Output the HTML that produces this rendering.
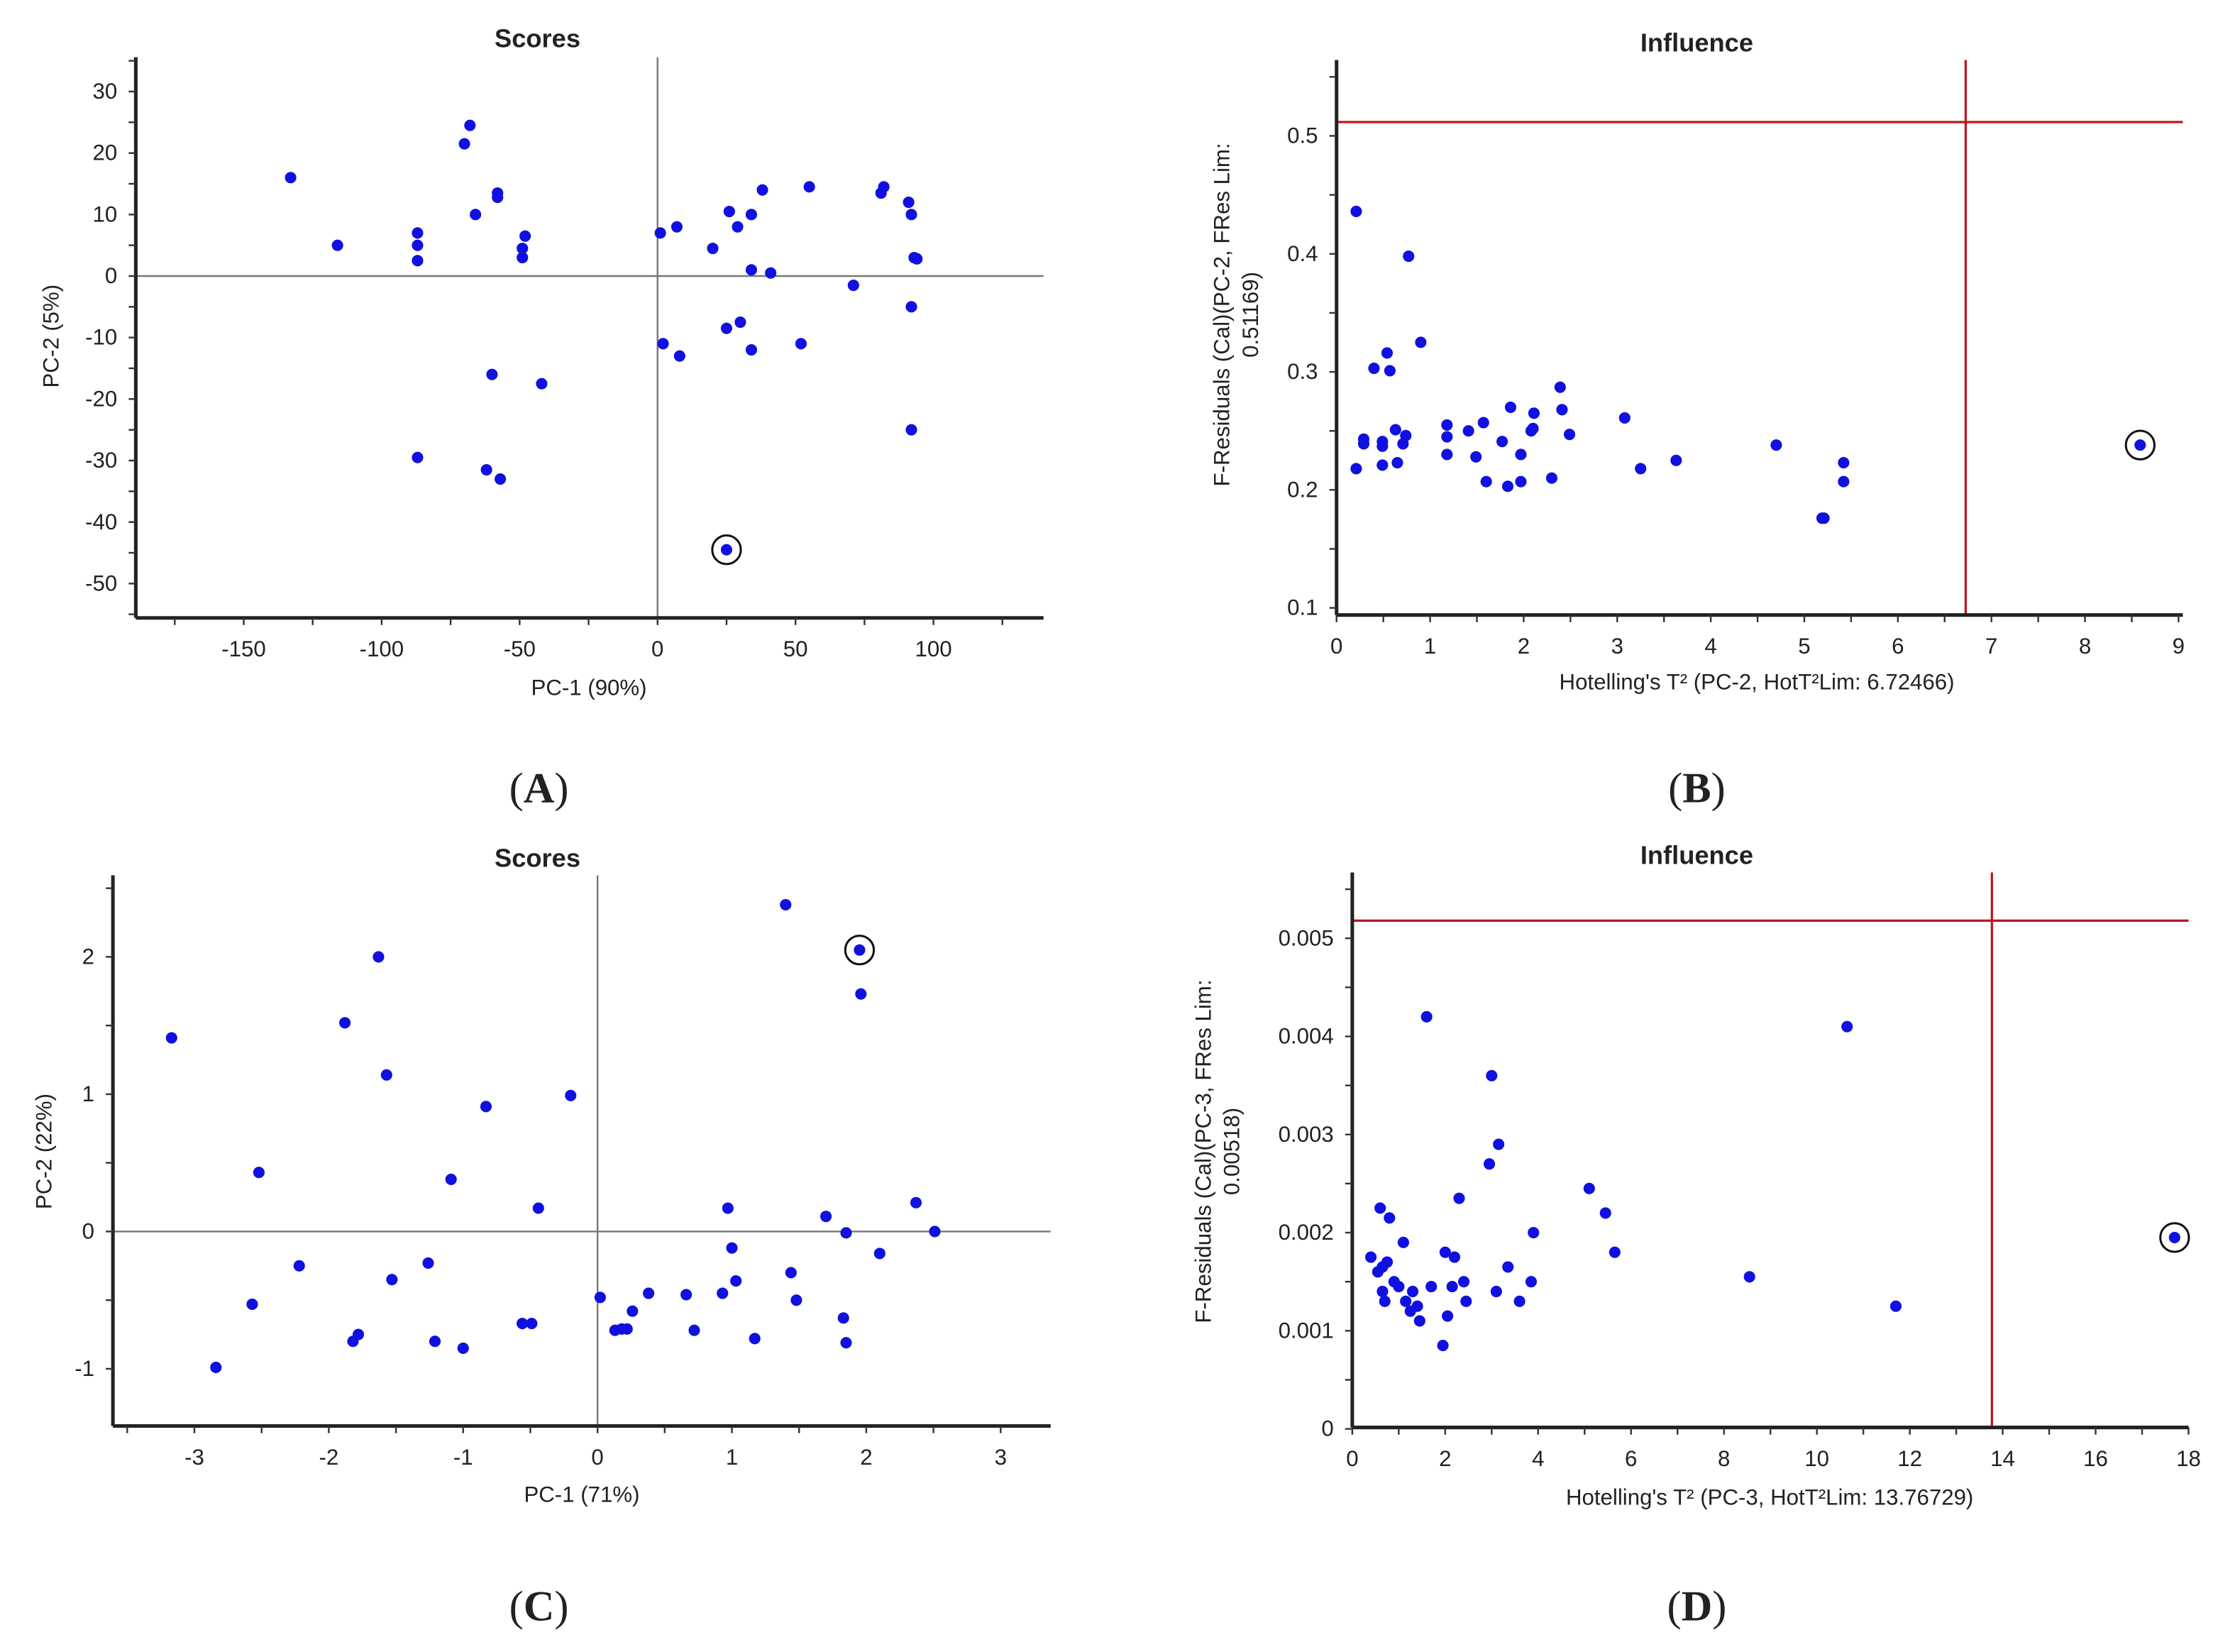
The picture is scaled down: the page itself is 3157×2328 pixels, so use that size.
<!DOCTYPE html>
<html><head><meta charset="utf-8"><style>
html,body{margin:0;padding:0;background:#fff;}
svg{display:block;}
text{font-family:"Liberation Sans",sans-serif;fill:#222;}
.t{font-size:15.5px;}
.lab{font-size:15.5px;}
.ttl{font-size:18px;font-weight:bold;}
.pl{font-family:"Liberation Serif",serif;font-size:30px;}
</style></head><body>
<svg id="chart" width="3157" height="2328" viewBox="0 0 1567 1155" preserveAspectRatio="none" xmlns="http://www.w3.org/2000/svg"></svg>
<script>
// Panel A data
const aX=[-133,-116,-87,-87,-87,-68,-70,-66,-58,-58,-48,-49,-49,-60,-42,-87,-62,-57,1,7,20,26,29,34,38,55,82,81,91,92,93,94,34,41,71,92,25,30,34,52,2,8,92];
const aY=[16,5,7,5,2.5,24.5,21.5,10,13.5,12.8,6.5,4.5,3,-16,-17.5,-29.5,-31.5,-33,7,8,4.5,10.5,8,10,14,14.5,14.5,13.5,12,10,3,2.8,1,0.5,-1.5,-5,-8.5,-7.5,-12,-11,-11,-13,-25];
const aOut=[25,-44.5];
const aXTicks=[-150,-100,-50,0,50,100];
const aYTicks=[30,20,10,0,-10,-20,-30,-40,-50];
// Panel B data
const bX=[0.21,0.77,0.9,0.4,0.54,0.57,0.63,0.29,0.29,0.49,0.49,0.71,0.74,0.21,0.49,0.65,1.18,1.18,1.18,1.41,1.57,1.49,1.6,1.77,1.86,1.83,1.97,1.97,2.11,2.08,2.1,2.39,2.41,2.49,2.3,3.08,3.25,3.63,4.7,5.19,5.21,5.42,5.42];
const bY=[0.436,0.398,0.325,0.303,0.316,0.301,0.251,0.243,0.239,0.241,0.237,0.239,0.246,0.218,0.221,0.223,0.255,0.245,0.230,0.25,0.257,0.228,0.207,0.241,0.270,0.203,0.230,0.207,0.265,0.25,0.252,0.287,0.268,0.247,0.21,0.261,0.218,0.225,0.238,0.176,0.176,0.223,0.207];
const bOut=[8.59,0.238];
const bXTicks=[0,1,2,3,4,5,6,7,8,9];
const bYTicks=[0.5,0.4,0.3,0.2,0.1];
const bLimX=6.72466, bLimY=0.51169;
// Panel C data
const cX=[-3.17,-2.52,-2.57,-2.84,-2.22,-1.88,-1.63,-1.57,-1.53,-1.82,-1.78,-1.26,-1.21,-1.09,-1.0,-0.83,-0.56,-0.49,-0.44,-0.2,0.02,0.13,0.18,0.22,0.26,0.38,0.66,0.72,0.93,0.97,1.0,1.03,1.17,1.4,1.44,1.48,1.7,1.85,1.83,1.85,1.96,2.1,2.37,2.51];
const cY=[1.41,0.43,-0.53,-0.99,-0.25,1.52,2.0,1.14,-0.35,-0.8,-0.75,-0.23,-0.8,0.38,-0.85,0.91,-0.67,-0.67,0.17,0.99,-0.48,-0.72,-0.71,-0.71,-0.58,-0.45,-0.46,-0.72,-0.45,0.17,-0.12,-0.36,-0.78,2.38,-0.3,-0.5,0.11,-0.01,-0.63,-0.81,1.73,-0.16,0.21,0.0];
const cOut=[1.95,2.05];
const cXTicks=[-3,-2,-1,0,1,2,3];
const cYTicks=[2,1,0,-1];
// Panel D data
const dX=[0.4,0.55,0.6,0.65,0.7,0.65,0.75,0.8,0.9,1.0,1.1,1.15,1.25,1.3,1.45,1.4,1.6,1.7,1.95,2.0,2.05,2.2,2.15,2.3,2.4,2.45,2.95,3.0,3.15,3.1,3.35,3.6,3.9,3.85,5.1,5.45,5.65,8.55,10.65,11.7];
const dY=[0.00175,0.0016,0.00225,0.0014,0.0013,0.00165,0.0017,0.00215,0.0015,0.00145,0.0019,0.0013,0.0012,0.0014,0.0011,0.00125,0.0042,0.00145,0.00085,0.0018,0.00115,0.00175,0.00145,0.00235,0.0015,0.0013,0.0027,0.0036,0.0029,0.0014,0.00165,0.0013,0.002,0.0015,0.00245,0.0022,0.0018,0.00155,0.0041,0.00125];
const dOut=[17.7,0.00195];
const dXTicks=[0,2,4,6,8,10,12,14,16,18];
const dYTicks=[0.005,0.004,0.003,0.002,0.001,0];
const dLimX=13.76729, dLimY=0.00518;

const NS='http://www.w3.org/2000/svg';
const svg=document.getElementById('chart');
function mk(tag,attrs,parent){const e=document.createElementNS(NS,tag);for(const k in attrs)e.setAttribute(k,attrs[k]);(parent||svg).appendChild(e);return e;}
function lin(d0,d1,p0,p1){return v=>p0+(v-d0)*(p1-p0)/(d1-d0);}

function panel(o){
  const g=mk('g',{});
  
  
  const X=lin(o.xd[0],o.xd[1],o.xp[0],o.xp[1]), Y=lin(o.yd[0],o.yd[1],o.yp[0],o.yp[1]);
  const t=mk('text',{x:o.tx,y:o.ty,'text-anchor':'middle',class:'ttl'},g);t.textContent=o.title;
  
  if(o.zero){
    const zl=mk('line',{x1:X(0),x2:X(0),y1:o.top,y2:o.bottom,stroke:'#777','stroke-width':1.2},g);
    
    const zh=mk('line',{x1:o.left,x2:o.right,y1:Y(0),y2:Y(0),stroke:'#777','stroke-width':1.2},g);
    
  }
  if(o.lim){
    const lh=mk('line',{x1:o.left,x2:o.right,y1:Y(o.lim[1]),y2:Y(o.lim[1]),stroke:'#c0141e','stroke-width':1.6},g);
    
    const lv=mk('line',{x1:X(o.lim[0]),x2:X(o.lim[0]),y1:o.top,y2:o.bottom,stroke:'#c0141e','stroke-width':1.6},g);
    
  }
  const ax=mk('line',{x1:o.left,x2:o.right,y1:o.bottom,y2:o.bottom,stroke:'#222','stroke-width':2.5},g);
  
  const ay=mk('line',{x1:o.left,x2:o.left,y1:o.top,y2:o.bottom,stroke:'#222','stroke-width':2.5},g);
  
  const xs=o.xTicks, ys=o.yTicks;
  const dx=xs[1]-xs[0], dy=ys[0]-ys[1];
  for(let v=xs[0]-dx;v<=xs[xs.length-1]+dx+1e-9;v+=dx/2){
    const px=X(v); if(px<o.left-1||px>o.right+1)continue;
    mk('line',{x1:px,x2:px,y1:o.bottom,y2:o.bottom+5,stroke:'#333','stroke-width':1.2},g);
  }
  xs.forEach(v=>{const tt=mk('text',{x:X(v),y:o.bottom+27,'text-anchor':'middle',class:'t'},g);tt.textContent=o.fx?o.fx(v):v;
    });
  for(let v=ys[ys.length-1]-dy;v<=ys[0]+dy+1e-12;v+=dy/2){
    const py=Y(v); if(py<o.top-1||py>o.bottom+1)continue;
    mk('line',{x1:o.left-5,x2:o.left,y1:py,y2:py,stroke:'#333','stroke-width':1.2},g);
  }
  ys.forEach(v=>{const tt=mk('text',{x:o.left-13,y:Y(v)+5,'text-anchor':'end',class:'t'},g);tt.textContent=o.fy?o.fy(v):v;
    });
  const xt=mk('text',{x:o.xl[0],y:o.xl[1],'text-anchor':'middle',class:'lab'},g);xt.textContent=o.xlabel;
  
  o.ylabel.forEach((s,i)=>{
    const yt=mk('text',{x:0,y:0,'text-anchor':'middle',class:'lab',transform:`translate(${o.yl[0]+i*20},${o.yl[1]}) rotate(-90)`},g);yt.textContent=s;
    
  });
  o.px.forEach((v,i)=>{
    const c=mk('circle',{cx:X(v),cy:Y(o.py[i]),r:4,fill:'#1010e0'},g);
    
  });
  const oc=mk('circle',{cx:X(o.out[0]),cy:Y(o.out[1]),r:10,fill:'none',stroke:'#111','stroke-width':1.5},g);
  
  const od=mk('circle',{cx:X(o.out[0]),cy:Y(o.out[1]),r:4,fill:'#1010e0'},g);
  
  const pl=mk('text',{x:o.plx,y:o.ply,'text-anchor':'middle',class:'pl'},g);
  pl.innerHTML='(<tspan font-weight="bold">'+o.letter+'</tspan>)';
  
}
const dec=n=>v=>v.toFixed(n);
panel({name:'panel-a-scores',title:'Scores',tx:376,ty:33,left:95,right:730,top:40,bottom:432,
  xd:[0,100],xp:[460,653],yd:[0,30],yp:[193,64],xTicks:aXTicks,yTicks:aYTicks,zero:true,
  xlabel:'PC-1 (90%)',xl:[412,486],ylabel:['PC-2 (5%)'],yl:[41,235],px:aX,py:aY,out:aOut,letter:'A',plx:377,ply:561});
panel({name:'panel-b-influence',title:'Influence',tx:1187,ty:36,left:935,right:1527,top:42,bottom:430,
  xd:[0,9],xp:[935,1524],yd:[0.1,0.5],yp:[425,95],xTicks:bXTicks,yTicks:bYTicks,lim:[bLimX,bLimY],fy:dec(1),
  xlabel:"Hotelling's T² (PC-2, HotT²Lim: 6.72466)",xl:[1229,482],ylabel:['F-Residuals (Cal)(PC-2, FRes Lim:','0.51169)'],yl:[860,220],
  px:bX,py:bY,out:bOut,letter:'B',plx:1187,ply:561});
panel({name:'panel-c-scores',title:'Scores',tx:376,ty:606,left:79,right:735,top:612,bottom:997,
  xd:[0,1],xp:[418,512],yd:[0,2],yp:[861,669],xTicks:cXTicks,yTicks:cYTicks,zero:true,
  xlabel:'PC-1 (71%)',xl:[407,1050],ylabel:['PC-2 (22%)'],yl:[36,805],px:cX,py:cY,out:cOut,letter:'C',plx:377,ply:1133});
panel({name:'panel-d-influence',title:'Influence',tx:1187,ty:604,left:946,right:1531,top:610,bottom:998,
  xd:[0,18],xp:[946,1531],yd:[0,0.005],yp:[999,656],xTicks:dXTicks,yTicks:dYTicks,lim:[dLimX,dLimY],fy:v=>v===0?'0':v.toFixed(3),
  xlabel:"Hotelling's T² (PC-3, HotT²Lim: 13.76729)",xl:[1238,1052],ylabel:['F-Residuals (Cal)(PC-3, FRes Lim:','0.00518)'],yl:[847,805],
  px:dX,py:dY,out:dOut,letter:'D',plx:1187,ply:1133});
</script>
</body></html>
